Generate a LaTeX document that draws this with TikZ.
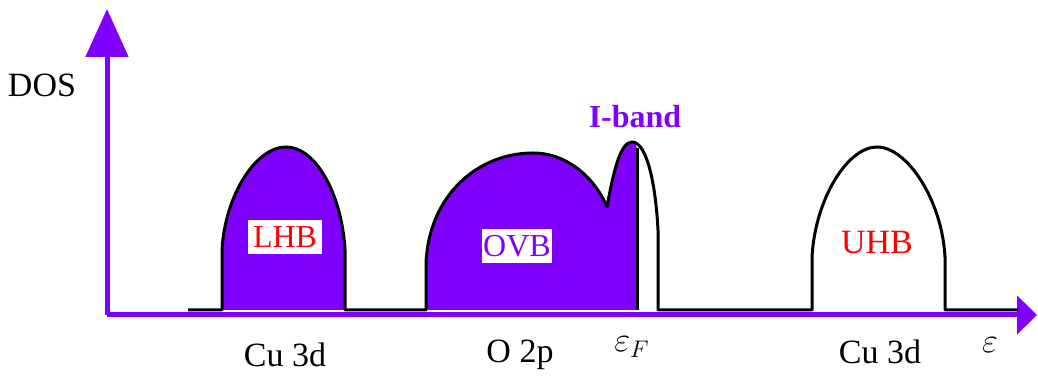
\documentclass[tikz,border=0pt]{standalone}
\usepackage{fontspec}
\setmainfont{Liberation Serif}
\usetikzlibrary{arrows.meta}
\definecolor{violet}{HTML}{8000FF}
\definecolor{hotred}{HTML}{FF0000}

\begin{document}
\begin{tikzpicture}[x=0.5pt,y=-0.5pt,
    axis/.style={line width=2.5pt,violet},
    outline/.style={line width=1.5pt,black,line join=round},
    tag/.style={fill=white,inner sep=0pt,minimum height=17pt,font=\fontsize{16}{18}\selectfont},
    lab/.style={font=\fontsize{17}{19}\selectfont}]
    \useasboundingbox (0,0) rectangle (1038,383);
    \coordinate (o) at (107,315);
    \coordinate (ytip) at (107,9);
    \coordinate (xtip) at (1037,315);
    \draw[axis,-{Triangle[length=24pt,width=21pt]}] (o) -- (ytip);
    \draw[axis,-{Triangle[length=10pt,width=19pt]}] (o) -- (xtip);
    \fill[violet] (222,310) -- (222,250) .. controls (225,195) and (256,147) .. (286,147)
      .. controls (316,147) and (342,195) .. (345,250) -- (345,310) -- cycle;
    \fill[violet] (426,310) -- (426,263) .. controls (429,195) and (478,153) .. (533,153)
      .. controls (570,153) and (597,182) .. (607,207) .. controls (614,168) and (621,142) .. (632,142)
      .. controls (635,142) and (637,146) .. (637,150) -- (637,310) -- cycle;
    \draw[outline] (188,310) -- (222,310) -- (222,250) .. controls (225,195) and (256,147) .. (286,147)
      .. controls (316,147) and (342,195) .. (345,250) -- (345,310) -- (426,310) -- (426,263)
      .. controls (429,195) and (478,153) .. (533,153) .. controls (570,153) and (597,182) .. (607,207)
      .. controls (614,168) and (621,142) .. (632,142) .. controls (648,142) and (656,190) .. (658,230)
      -- (658,310) -- (812,310) -- (812,257) .. controls (815,200) and (847,147) .. (877,147)
      .. controls (907,147) and (942,200) .. (945,257) -- (945,310) -- (1018,310);
    \draw[outline] (637,148) -- (637,310);
    \node[tag,minimum width=37pt,text=hotred] (lhb) at (285,237) {LHB};
    \node[tag,minimum width=35pt,text=violet] (ovb) at (517,246) {OVB};
    \node[lab,text=hotred] (uhb) at (877,243) {UHB};
    \node[lab,text=violet,font=\fontsize{16}{18}\selectfont\bfseries] (iband) at (635,117) {I-band};
    \node[lab] (dos) at (42,85) {DOS};
    \foreach \x/\y/\t/\n in {285/355/Cu 3d/cul, 520/355/O 2p/otwop, 632/347/$\varepsilon_F$/ef, 880/352/Cu 3d/cuu, 990/345/$\varepsilon$/eps}{
      \node[lab] (\n) at (\x,\y) {\t};
    }
  \end{tikzpicture}
\end{document}
